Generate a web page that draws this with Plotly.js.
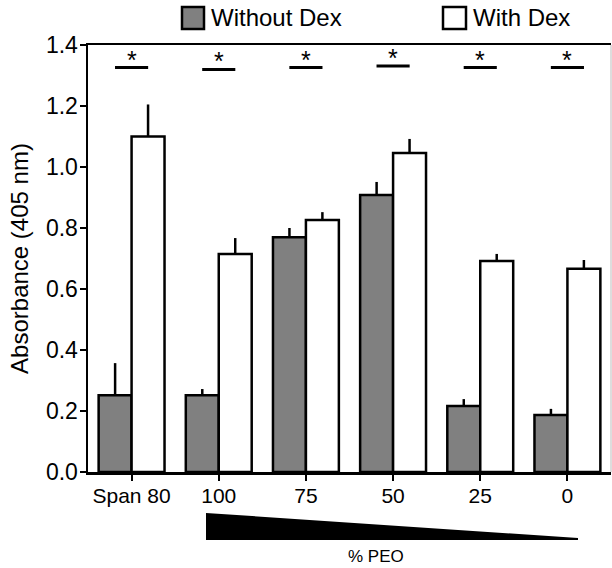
<!DOCTYPE html>
<html><head><meta charset="utf-8">
<script src="https://cdn.plot.ly/plotly-3.0.1.min.js"></script>
<style>html,body{margin:0;padding:0;background:#fff}</style>
</head><body><div id="chart" style="width:612px;height:568px"></div>
<script>
const categories = ["Span 80", "100", "75", "50", "25", "0"];
const seriesNames = ["Without Dex", "With Dex"];
const withoutDex = [0.252, 0.252, 0.770, 0.908, 0.216, 0.187];
const withoutDexErr = [0.105, 0.020, 0.030, 0.043, 0.023, 0.020];
const withDex = [1.100, 0.715, 0.826, 1.046, 0.692, 0.666];
const withDexErr = [0.105, 0.052, 0.026, 0.046, 0.023, 0.029];
const sigY = [1.326, 1.320, 1.326, 1.331, 1.326, 1.326];
const sigLabel = ["*", "*", "*", "*", "*", "*"];
const yTickVals = [0, 0.2, 0.4, 0.6, 0.8, 1.0, 1.2, 1.4];
const yTitle = "Absorbance (405 nm)";
const wedgeLabel = "% PEO";

const FONT = "Liberation Sans, Arial, sans-serif";
const colors = ["#808080", "#ffffff"];

const traces = [
  {
    type: "bar", name: seriesNames[0], x: categories, y: withoutDex,
    marker: {color: colors[0], line: {color: "#000", width: 2.5}},
    error_y: {type: "data", symmetric: false, array: withoutDexErr,
      arrayminus: withoutDexErr.map(() => 0), color: "#000", thickness: 2.5, width: 0},
    showlegend: false, hoverinfo: "skip"
  },
  {
    type: "bar", name: seriesNames[1], x: categories, y: withDex,
    marker: {color: colors[1], line: {color: "#000", width: 2.5}},
    error_y: {type: "data", symmetric: false, array: withDexErr,
      arrayminus: withDexErr.map(() => 0), color: "#000", thickness: 2.5, width: 0},
    showlegend: false, hoverinfo: "skip"
  }
];

const L = 88, R = 1, T = 45, B = 96, W = 612, H = 568;
const pw = W - L - R, ph = H - T - B;
const px = v => (v - L) / pw;       // pixel x -> paper
const py = v => (H - B - v) / ph;   // pixel y -> paper

const shapes = [];
const annotations = [];

// significance bars
sigY.forEach((v, i) => {
  shapes.push({type: "line", xref: "x", yref: "y", x0: i - 0.19, x1: i + 0.19, y0: v, y1: v,
    line: {color: "#000", width: 3}});
  annotations.push({xref: "x", yref: "y", x: i, y: v, text: sigLabel[i], showarrow: false,
    yanchor: "bottom", yshift: -8, font: {family: FONT, size: 25, color: "#000"}});
});

// right frame edge (thin gray)
shapes.push({type: "line", xref: "paper", yref: "paper", x0: 1, x1: 1, y0: 0, y1: 1,
  line: {color: "#bbbbbb", width: 1}});

// wedge under axis
shapes.push({type: "path", xref: "paper", yref: "paper",
  path: `M ${px(206)},${py(513)} L ${px(578)},${py(538)} L ${px(578)},${py(540)} L ${px(206)},${py(540)} Z`,
  fillcolor: "#000", line: {width: 0}});
annotations.push({xref: "paper", yref: "paper", x: px(376), y: py(556), text: wedgeLabel,
  showarrow: false, xanchor: "center", yanchor: "middle", font: {family: FONT, size: 17, color: "#000"}});

// manual legend
const legendBoxes = [[182, 204], [443, 466]];
seriesNames.forEach((n, i) => {
  const [a, b] = legendBoxes[i];
  shapes.push({type: "rect", xref: "paper", yref: "paper", x0: px(a), x1: px(b), y0: py(29), y1: py(7),
    fillcolor: colors[i], line: {color: "#000", width: 2.5}});
  annotations.push({xref: "paper", yref: "paper", x: px(b + 5), y: py(18), text: n, showarrow: false,
    xanchor: "left", yanchor: "middle", font: {family: FONT, size: 24, color: "#000"}});
});

const layout = {
  width: W, height: H,
  margin: {l: L, r: R, t: T, b: B, pad: 0},
  paper_bgcolor: "#fff", plot_bgcolor: "#fff",
  barmode: "group", bargap: 0.244, bargroupgap: 0,
  showlegend: false,
  font: {family: FONT, color: "#000"},
  xaxis: {
    type: "category", showgrid: false, zeroline: false,
    showline: true, linecolor: "#000", linewidth: 2.5, mirror: true,
    ticks: "outside", ticklen: 6, tickwidth: 2, tickcolor: "#000",
    ticklabelstandoff: -3,
    tickfont: {family: FONT, size: 21, color: "#000"}, automargin: false
  },
  yaxis: {
    range: [0, 1.4], tickvals: yTickVals, tickformat: ".1f",
    showgrid: false, zeroline: false,
    showline: true, linecolor: "#000", linewidth: 2.5,
    ticks: "outside", ticklen: 6, tickwidth: 2, tickcolor: "#000",
    ticklabelstandoff: -3,
    tickfont: {family: FONT, size: 23, color: "#000"},
    title: {text: yTitle, font: {family: FONT, size: 24, color: "#000"}, standoff: 11},
    automargin: false
  },
  shapes: shapes,
  annotations: annotations
};

Plotly.newPlot("chart", traces, layout, {displayModeBar: false, staticPlot: true});
</script>
</body></html>
